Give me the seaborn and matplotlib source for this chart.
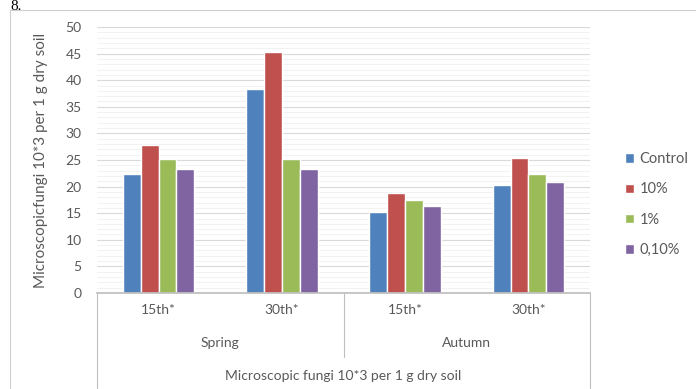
import numpy as np
import pandas as pd
import seaborn as sns
import matplotlib.pyplot as plt
from matplotlib.lines import Line2D
from matplotlib.patches import Rectangle

# chart data
seasons = ["Spring", "Spring", "Autumn", "Autumn"]
periods = ["15th*", "30th*", "15th*", "30th*"]
series = ["Control", "10%", "1%", "0,10%"]
control = [22.3, 38.3, 15.3, 20.3]
ten_pct = [27.9, 45.3, 18.8, 25.4]
one_pct = [25.1, 25.2, 17.5, 22.3]
point_one_pct = [23.4, 23.4, 16.3, 20.8]
colors = ["#4F81BD", "#C0504D", "#9BBB59", "#8064A2"]

keys = [s + " " + p for s, p in zip(seasons, periods)]
rows = []
for name, vals in zip(series, [control, ten_pct, one_pct, point_one_pct]):
    for k, v in zip(keys, vals):
        rows.append({"key": k, "series": name, "value": v})
df = pd.DataFrame(rows)

sns.set_theme(style="white")
plt.rcParams['font.family'] = ['Lato', 'DejaVu Sans']
grey = "#595959"

fig = plt.figure(figsize=(6.96, 3.89), dpi=100)
ax = fig.add_axes([97/696, 1-293/389, 493/696, 266/389])

sns.barplot(data=df, x="key", y="value", hue="series", order=keys, hue_order=series,
            palette=colors, width=0.58, gap=0, saturation=1, errorbar=None, ax=ax)

ax.set_ylim(0, 50)
ax.set_yticks(np.arange(0, 51, 5))
ax.set_yticks(np.arange(0, 51, 1), minor=True)
ax.grid(axis="y", which="major", color="#d9d9d9", lw=0.8)
ax.grid(axis="y", which="minor", color="#f0f0f0", lw=0.6)
ax.set_axisbelow(True)
for s in ["top", "right", "left"]:
    ax.spines[s].set_visible(False)
ax.spines["bottom"].set_color("#bfbfbf")
ax.tick_params(axis="y", which="both", length=0, labelsize=10, labelcolor=grey, pad=11)
ax.tick_params(axis="x", length=0, labelsize=10, labelcolor=grey, pad=8)
ax.set_xticks(range(len(keys)))
ax.set_xticklabels(periods)
ax.set_xlabel("")
ax.set_ylabel("Microscopicfungi 10*3 per 1 g dry soil", fontsize=11, color=grey)
ax.yaxis.set_label_coords((48-97)/493, 0.5)

# multi-level category labels
ax.text(0.25, -50/266, "Spring", transform=ax.transAxes, ha="center", va="center", fontsize=10, color=grey)
ax.text(0.75, -50/266, "Autumn", transform=ax.transAxes, ha="center", va="center", fontsize=10, color=grey)
ax.text(0.5, -83/266, "Microscopic fungi 10*3 per 1 g dry soil", transform=ax.transAxes,
        ha="center", va="center", fontsize=10, color=grey)
for x0, y1 in [(0, -95/266), (0.5, -64/266), (1, -95/266)]:
    ax.add_line(Line2D([x0, x0], [0, y1], transform=ax.transAxes, color="#bfbfbf", lw=0.8, clip_on=False))

handles, labels = ax.get_legend_handles_labels()
ax.legend(handles, labels, loc="upper left", bbox_to_anchor=(612/696, 1-139/389),
          bbox_transform=fig.transFigure, frameon=False, labelspacing=1.12,
          handlelength=0.6, handleheight=0.6, handletextpad=0.4, fontsize=10.5, labelcolor=grey)

fig.patches.append(Rectangle((10/696, -0.05), 1.0, 1.05-10/389, transform=fig.transFigure,
                             fill=False, edgecolor="#cfcfcf", lw=0.8))
fig.text(10/696, 1.0, "8.", ha="left", va="top", fontsize=11, family="Liberation Serif", color="black")

fig.savefig("out.png", dpi=100)
